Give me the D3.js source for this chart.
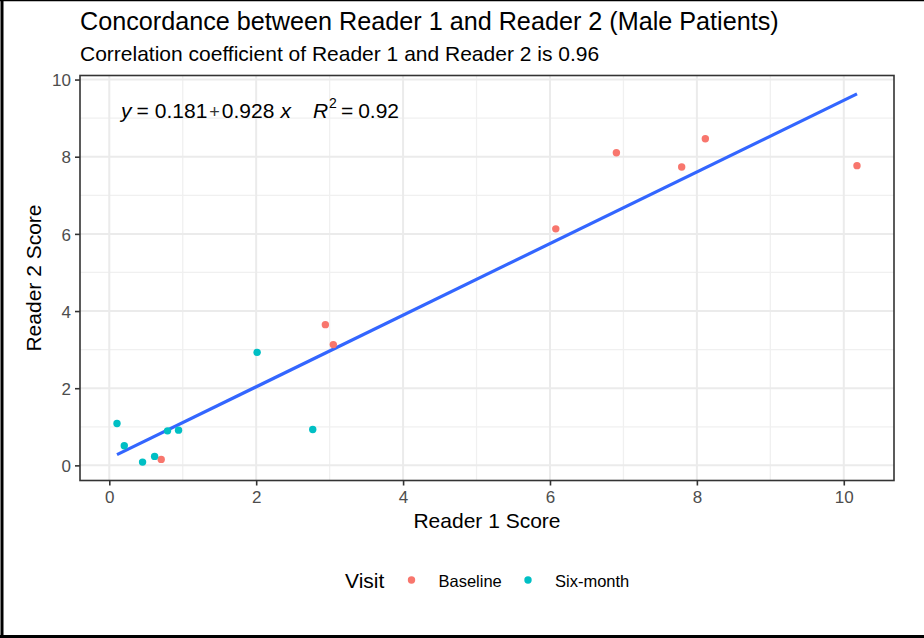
<!DOCTYPE html>
<html>
<head>
<meta charset="utf-8">
<script src="https://cdn.jsdelivr.net/npm/d3@7"></script>
<style>
  html, body { margin: 0; padding: 0; background: #fff; }
  svg { display: block; font-family: "Liberation Sans", Arial, sans-serif; }
</style>
</head>
<body>
<svg id="chart" width="924" height="638"></svg>
<script>
// Reader scores per patient, split by visit
const baselineReader1 = [0.707, 2.942, 3.05, 6.079, 6.904, 7.793, 8.115, 10.18];
const baselineReader2 = [0.155, 3.647, 3.13, 6.13, 8.104, 7.734, 8.466, 7.768];
const sixMonthReader1 = [0.105, 0.204, 0.453, 0.617, 0.793, 0.943, 2.013, 2.77];
const sixMonthReader2 = [1.086, 0.507, 0.085, 0.233, 0.895, 0.913, 2.93, 0.931];

const visits = ["Baseline", "Six-month"];
const visitColors = ["#F8766D", "#00BFC4"];

// Fitted line reported in the annotation
const fitIntercept = 0.181;
const fitSlope = 0.928;
const fitR2 = 0.92;
const correlation = 0.96;

const xTicks = [0, 2, 4, 6, 8, 10];
const yTicks = [0, 2, 4, 6, 8, 10];
const xMinor = [1, 3, 5, 7, 9];
const yMinor = [1, 3, 5, 7, 9];

const points = [];
baselineReader1.forEach((v, i) => points.push({ r1: v, r2: baselineReader2[i], visit: visits[0] }));
sixMonthReader1.forEach((v, i) => points.push({ r1: v, r2: sixMonthReader2[i], visit: visits[1] }));

const svg = d3.select("#chart");
const W = 924, H = 638;
const panel = { left: 80, right: 894, top: 75.5, bottom: 480.5 };

// Frame lines around the figure
svg.append("line").attr("x1", 2).attr("x2", 2).attr("y1", 0).attr("y2", H).attr("stroke", "#000").attr("stroke-width", 3);
svg.append("line").attr("x1", 0).attr("x2", W).attr("y1", 0.5).attr("y2", 0.5).attr("stroke", "#000").attr("stroke-width", 1.5);
svg.append("line").attr("x1", 0).attr("x2", W).attr("y1", 636.5).attr("y2", 636.5).attr("stroke", "#000").attr("stroke-width", 3);

// Data extents with 5% padding, including the fitted segment
const xExt = d3.extent(points, d => d.r1);
const lineEnds = xExt.map(x => fitIntercept + fitSlope * x);
const yExt = d3.extent(points.map(d => d.r2).concat(lineEnds));
const pad = (e) => { const d = (e[1] - e[0]) * 0.05; return [e[0] - d, e[1] + d]; };

const x = d3.scaleLinear().domain(pad(xExt)).range([panel.left, panel.right]);
const y = d3.scaleLinear().domain(pad(yExt)).range([panel.bottom, panel.top]);
const color = d3.scaleOrdinal().domain(visits).range(visitColors);

// Grid
const grid = svg.append("g");
grid.selectAll(".vmin").data(xMinor).join("line")
  .attr("x1", d => x(d)).attr("x2", d => x(d)).attr("y1", panel.top).attr("y2", panel.bottom)
  .attr("stroke", "#F0F0F0").attr("stroke-width", 1.3);
grid.selectAll(".hmin").data(yMinor).join("line")
  .attr("y1", d => y(d)).attr("y2", d => y(d)).attr("x1", panel.left).attr("x2", panel.right)
  .attr("stroke", "#F0F0F0").attr("stroke-width", 1.3);
grid.selectAll(".vmaj").data(xTicks).join("line")
  .attr("x1", d => x(d)).attr("x2", d => x(d)).attr("y1", panel.top).attr("y2", panel.bottom)
  .attr("stroke", "#EBEBEB").attr("stroke-width", 2);
grid.selectAll(".hmaj").data(yTicks).join("line")
  .attr("y1", d => y(d)).attr("y2", d => y(d)).attr("x1", panel.left).attr("x2", panel.right)
  .attr("stroke", "#EBEBEB").attr("stroke-width", 2);

// Fitted line
svg.append("line")
  .attr("x1", x(xExt[0])).attr("y1", y(lineEnds[0]))
  .attr("x2", x(xExt[1])).attr("y2", y(lineEnds[1]))
  .attr("stroke", "#3366FF").attr("stroke-width", 3.2);

// Points
svg.append("g").selectAll("circle").data(points).join("circle")
  .attr("cx", d => x(d.r1)).attr("cy", d => y(d.r2)).attr("r", 3.7)
  .attr("fill", d => color(d.visit));

// Panel border
svg.append("rect")
  .attr("x", panel.left).attr("y", panel.top)
  .attr("width", panel.right - panel.left).attr("height", panel.bottom - panel.top)
  .attr("fill", "none").attr("stroke", "#333333").attr("stroke-width", 1.6);

// Axes
const xAxis = svg.append("g").attr("transform", `translate(0,${panel.bottom})`)
  .call(d3.axisBottom(x).tickValues(xTicks).tickSize(5).tickPadding(5).tickFormat(d3.format("d")));
const yAxis = svg.append("g").attr("transform", `translate(${panel.left},0)`)
  .call(d3.axisLeft(y).tickValues(yTicks).tickSize(5).tickPadding(4).tickFormat(d3.format("d")));
[xAxis, yAxis].forEach(a => {
  a.attr("font-size", 17).attr("font-family", "'Liberation Sans', Arial, sans-serif");
  a.select(".domain").remove();
  a.selectAll(".tick line").attr("stroke", "#333333").attr("stroke-width", 1.6);
  a.selectAll(".tick text").attr("fill", "#4D4D4D");
});
yAxis.selectAll(".tick text").attr("dy", "0.36em");

// Axis titles
svg.append("text").attr("x", (panel.left + panel.right) / 2).attr("y", 528)
  .attr("text-anchor", "middle").attr("font-size", 21).attr("fill", "#000").text("Reader 1 Score");
svg.append("text").attr("transform", `translate(41,${(panel.top + panel.bottom) / 2}) rotate(-90)`)
  .attr("text-anchor", "middle").attr("font-size", 21).attr("fill", "#000").text("Reader 2 Score");

// Titles
svg.append("text").attr("x", 80).attr("y", 30).attr("font-size", 25.2).attr("fill", "#000")
  .text("Concordance between Reader 1 and Reader 2 (Male Patients)");
svg.append("text").attr("x", 80).attr("y", 61).attr("font-size", 21).attr("fill", "#000")
  .text(`Correlation coefficient of Reader 1 and Reader 2 is ${correlation.toFixed(2)}`);

// Regression equation, laid out piece by piece from measured widths
const eqY = 118;
const eq = svg.append("g").attr("font-size", 21).attr("fill", "#000");
const pieces = [
  { t: "y", italic: true, gap: 5 },
  { t: "=", gap: 6 },
  { t: fitIntercept.toFixed(3), gap: 2 },
  { t: "+", size: 18, color: "#333", dy: 0, gap: 2 },
  { t: fitSlope.toFixed(3), gap: 6 },
  { t: "x", italic: true, gap: 22 },
  { t: "R", italic: true, gap: 1 },
  { t: "2", size: 14, dy: -10, gap: 4 },
  { t: "=", gap: 5 },
  { t: fitR2.toFixed(2), gap: 0 }
];
let cursor = panel.left + 41;
pieces.forEach(p => {
  const t = eq.append("text").attr("x", cursor).attr("y", eqY + (p.dy || 0)).text(p.t);
  if (p.italic) t.attr("font-style", "italic");
  if (p.size) t.attr("font-size", p.size);
  if (p.color) t.attr("fill", p.color);
  cursor += t.node().getComputedTextLength() + p.gap;
});

// Legend
const lg = svg.append("g");
lg.append("text").attr("x", 345).attr("y", 588).attr("font-size", 21).attr("fill", "#000").text("Visit");
const legendItems = [
  { key: visits[0], cx: 411.5, tx: 438.5 },
  { key: visits[1], cx: 528, tx: 555 }
];
legendItems.forEach(it => {
  lg.append("circle").attr("cx", it.cx).attr("cy", 580).attr("r", 3.7).attr("fill", color(it.key));
  lg.append("text").attr("x", it.tx).attr("y", 586.5).attr("font-size", 16.5).attr("fill", "#000").text(it.key);
});
</script>
</body>
</html>
